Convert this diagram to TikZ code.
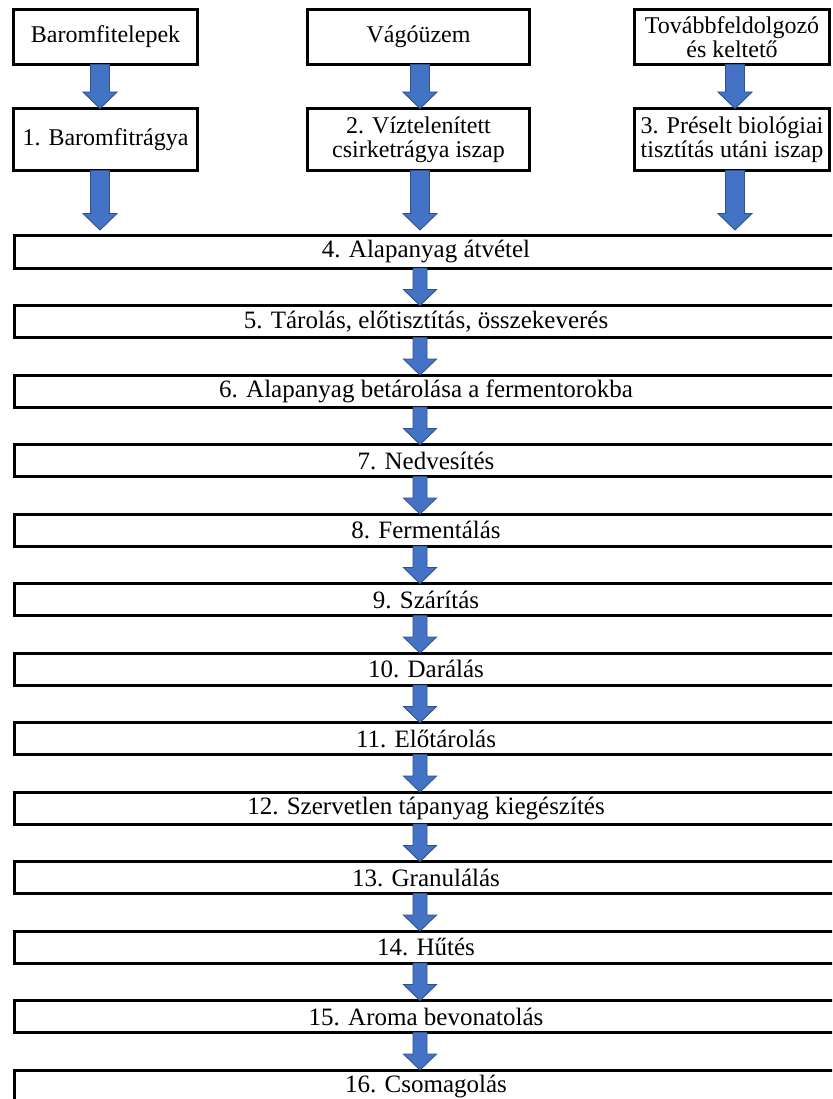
\documentclass[tikz,border=0pt]{standalone}
\usepackage{fontspec}
\setmainfont{Liberation Serif}
\usetikzlibrary{calc}
\definecolor{arrowfill}{HTML}{4472C4}
\definecolor{arrowline}{HTML}{2F528F}
% block arrow geometry (half shaft width, half head width, head length)
\newcommand\shaftw{7pt}
\newcommand\headw{16.5pt}
\newcommand\headl{16pt}
\begin{document}
\begin{tikzpicture}[x=1pt,y=-1pt,
  box/.style={draw=black, line width=3pt, fill=white, inner sep=0pt, outer sep=0pt,
    align=center, font=\fontsize{24}{24.5}\selectfont},
  source/.style={box, minimum height=55pt},
  material/.style={box, minimum height=62pt},
  stage/.style={box, minimum width=823pt, minimum height=32pt,
    font=\fontsize{25}{25}\selectfont},
  flow/.style={fill=arrowfill, draw=arrowline, line width=0.9pt, line join=miter,
    to path={let \p1=(\tikztostart), \p2=(\tikztotarget) in
      (\x1-\shaftw,\y1) -- (\x1+\shaftw,\y1) -- (\x1+\shaftw,\y2+\headl)
      -- (\x1+\headw,\y2+\headl) -- (\x1,\y2) -- (\x1-\headw,\y2+\headl)
      -- (\x1-\shaftw,\y2+\headl) -- cycle}},
  wideflow/.code={\def\shaftw{9.5pt}\def\headw{17pt}\def\headl{16.5pt}},
]
\useasboundingbox (0,0) rectangle (832,1099);
\clip (0,0) rectangle (832,1099);
\fill[white] (0,0) rectangle (832,1099);

% sources
\node[source, minimum width=184pt] (src1) at (105.5,37) {Baromfitelepek};
\node[source, minimum width=222pt] (src2) at (418.5,37) {Vágóüzem};
\node[source, minimum width=195pt] (src3) at (732,37) {Továbbfeldolgozó\\és keltető};

% raw materials
\node[material, minimum width=184pt] (p1) at (105.5,139.5) {1. Baromfitrágya};
\node[material, minimum width=222pt] (p2) at (418.5,139.5) {2. Víztelenített\\csirketrágya iszap};
\node[material, minimum width=195pt] (p3) at (732,139.5) {3. Préselt biológiai\\tisztítás utáni iszap};

% processing stages
\foreach \n/\t in {4/{Alapanyag átvétel},
                   5/{Tárolás, előtisztítás, összekeverés},
                   6/{Alapanyag betárolása a fermentorokba},
                   7/{Nedvesítés},
                   8/{Fermentálás},
                   9/{Szárítás},
                   10/{Darálás},
                   11/{Előtárolás},
                   12/{Szervetlen tápanyag kiegészítés},
                   13/{Granulálás},
                   14/{Hűtés},
                   15/{Aroma bevonatolás},
                   16/{Csomagolás}}
  \node[stage] (b\n) at (426,{252+69.5*(\n-4)}) {\n. \t};

% arrows: sources to raw materials
\draw[flow, wideflow] ($(src1.south)+(-5.5,0)$) to ($(p1.north)+(-5.5,0)$);
\draw[flow, wideflow] ($(src2.south)+(1.5,0)$) to ($(p2.north)+(1.5,0)$);
\draw[flow, wideflow] ($(src3.south)+(3,0)$) to ($(p3.north)+(3,0)$);

% arrows: raw materials to intake
\draw[flow, wideflow] ($(p1.south)+(-5.5,0)$) to ($(p1.south |- b4.north)+(-5.5,-6)$);
\draw[flow, wideflow] ($(p2.south)+(1.5,0)$) to ($(p2.south |- b4.north)+(1.5,-6)$);
\draw[flow, wideflow] ($(p3.south)+(3,0)$) to ($(p3.south |- b4.north)+(3,-6)$);

% arrows between stages
\foreach \n [evaluate=\n as \m using int(\n+1)] in {4,...,15}
  \draw[flow] ($(b\n.south)+(-6,0)$) to ($(b\m.north)+(-6,0)$);
\end{tikzpicture}
\end{document}
